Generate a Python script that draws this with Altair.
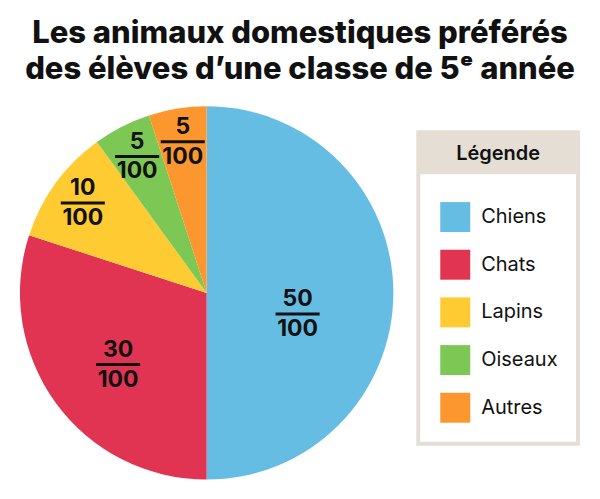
import altair as alt
import pandas as pd

categories = ["Chiens", "Chats", "Lapins", "Oiseaux", "Autres"]
values = [50, 30, 10, 5, 5]
colors = ["#65BDE4", "#E13453", "#FFCB33", "#7DC855", "#FC962F"]
denominator = 100
title_lines = ["Les animaux domestiques préférés", "des élèves d’une classe de 5ᵉ année"]
legend_title = "Légende"

FONT = "Inter"
INK = "#111111"
BEIGE = "#E4DED5"

df = pd.DataFrame({"animal": categories, "valeur": values})
df["num"] = df["valeur"].astype(str)
df["den"] = str(denominator)

color_scale = alt.Scale(domain=categories, range=colors)

arc = (
    alt.Chart(df)
    .transform_window(idx="row_number()")
    .mark_arc(outerRadius=187)
    .encode(
        theta=alt.Theta("valeur:Q", stack=True),
        color=alt.Color("animal:N", scale=color_scale, legend=None),
        order=alt.Order("idx:Q"),
    )
)

lab = (
    alt.Chart(df)
    .transform_window(cum="sum(valeur)", frame=[None, 0])
    .transform_joinaggregate(tot="sum(valeur)")
    .transform_calculate(
        ang="(datum.cum - datum.valeur/2)/datum.tot*2*PI"
            " + (datum.valeur >= 50 ? 0.227 : datum.valeur >= 30 ? -0.052 : 0)",
        rr="datum.valeur >= 50 ? 0.50 : datum.valeur >= 30 ? 0.61 : 0.82",
    )
    .transform_calculate(
        px="datum.rr*sin(datum.ang)",
        py="datum.rr*cos(datum.ang)",
    )
    .transform_calculate(
        xa="datum.px - 0.118",
        xb="datum.px + 0.118",
    )
)

xs = alt.Scale(domain=[-1, 1], nice=False, zero=False)
ys = alt.Scale(domain=[-1, 1], nice=False, zero=False)

num = lab.mark_text(font=FONT, fontSize=23, fontWeight="bold", dy=-15, color=INK, baseline="middle").encode(
    x=alt.X("px:Q", scale=xs, axis=None),
    y=alt.Y("py:Q", scale=ys, axis=None),
    text="num:N",
)
den = lab.mark_text(font=FONT, fontSize=23, fontWeight="bold", dy=15, color=INK, baseline="middle").encode(
    x=alt.X("px:Q", scale=xs, axis=None),
    y=alt.Y("py:Q", scale=ys, axis=None),
    text="den:N",
)
bar = lab.mark_rule(strokeWidth=3, color=INK).encode(
    x=alt.X("xa:Q", scale=xs, axis=None),
    x2="xb:Q",
    y=alt.Y("py:Q", scale=ys, axis=None),
)

pie = alt.layer(arc, bar, num, den).properties(width=374, height=374)

hdr_df = pd.DataFrame({"t": [legend_title]})
box = alt.Chart(hdr_df).mark_rect(fill="white", stroke=BEIGE, strokeWidth=4).encode(
    x=alt.value(0), x2=alt.value(160), y=alt.value(0), y2=alt.value(312)
)
header = alt.Chart(hdr_df).mark_rect(color=BEIGE).encode(
    x=alt.value(0), x2=alt.value(160), y=alt.value(0), y2=alt.value(42)
)
header_text = alt.Chart(hdr_df).mark_text(
    font=FONT, fontSize=20, fontWeight=600, color=INK, baseline="middle", align="center"
).encode(x=alt.value(80), y=alt.value(22), text="t:N")

leg_df = pd.DataFrame({"animal": categories})
yleg = alt.Y(
    "animal:N",
    scale=alt.Scale(type="point", domain=categories, range=[85, 276], padding=0),
    axis=None,
)
squares = alt.Chart(leg_df).mark_square(size=900, opacity=1).encode(
    x=alt.value(37),
    y=yleg,
    color=alt.Color("animal:N", scale=color_scale, legend=None),
)
labels = alt.Chart(leg_df).mark_text(
    font=FONT, fontSize=20, color=INK, align="left", baseline="middle"
).encode(x=alt.value(63), y=yleg, text="animal:N")

legend = alt.layer(box, header, header_text, squares, labels).properties(
    width=160, height=322,
)

chart = (
    alt.hconcat(pie, legend, spacing=23, center=True)
    .properties(
        title=alt.Title(
            title_lines, font=FONT, fontSize=31, fontWeight=800, color=INK,
            anchor="middle", lineHeight=36, offset=20,
        ),
        padding={"left": 20, "top": 18, "right": 20, "bottom": 20},
        background="white",
    )
    .configure_view(stroke=None)
)

chart.save("out.html", embed_options={"renderer": "svg", "actions": False})
